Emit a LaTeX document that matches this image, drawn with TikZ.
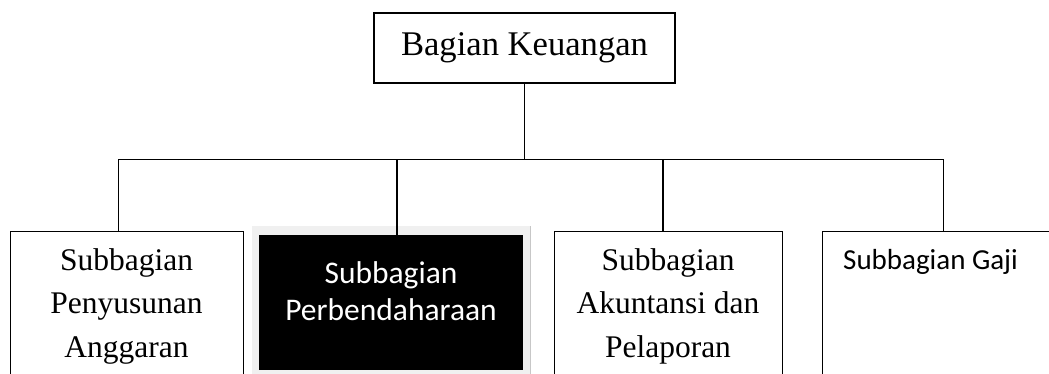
\documentclass[tikz,border=0pt]{standalone}
\usepackage{fontspec}
\setmainfont{Liberation Serif}
\newfontfamily\calib{Carlito}
\begin{document}
\begin{tikzpicture}[x=1pt,y=-1pt,
  box/.style={draw=black, line width=1.4pt, fill=white, inner sep=0pt, anchor=north west},
  link/.style={draw=black, line width=1.4pt},
  serifbody/.style={font=\fontsize{31.5}{43.5}\selectfont, align=center, inner sep=0pt, anchor=base},
  calbody/.style={font=\calib\fontsize{31.5}{37}\selectfont, align=center, inner sep=0pt, anchor=base}]
\clip (0,0) rectangle (1049,374);
\fill[white] (0,0) rectangle (1049,374);
% top
\node[draw=black, line width=1.4pt, minimum width=301pt, minimum height=70pt, inner sep=0pt,
      font=\fontsize{34.6}{40}\selectfont] (top) at (524.5,48) {Bagian Keuangan};
% boxes
\node[box, minimum width=233pt, minimum height=143pt] (b1) at (10,231) {};
\node[fill=black!6, minimum width=278pt, minimum height=148pt, inner sep=0pt, anchor=north west] (b2frame) at (252,226) {};
\draw[black!22, line width=1.2pt] (b2frame.north east) -- (b2frame.south east);
\node[fill=black, minimum width=264pt, minimum height=135pt, inner sep=0pt, anchor=north west] (b2) at (259,235) {};
\node[box, minimum width=228pt, minimum height=143pt] (b3) at (554,231) {};
\node[box, minimum width=250pt, minimum height=143pt] (b4) at (822,231) {};
% texts (anchor base = baseline of last line)
\node[serifbody] (t1) at (126.5,357) {Subbagian\\Penyusunan\\Anggaran};
\node[calbody, text=white] (t2) at (391,320) {Subbagian\\Perbendaharaan};
\node[serifbody] (t3) at (668,357) {Subbagian\\Akuntansi dan\\Pelaporan};
\node[font=\calib\fontsize{29}{35}\selectfont, inner sep=0pt, anchor=base west] (t4) at (843,269) {Subbagian Gaji};
% connectors
\coordinate (bus) at (524.5,159.5);
\coordinate (d1) at (118.5,159.5);
\coordinate (d2) at (397,159.5);
\coordinate (d3) at (663,159.5);
\coordinate (d4) at (943.5,159.5);
\draw[link] (top.south) -- (bus);
\draw[link] (d1) -- (d4);
\draw[link] (d1) -- (d1 |- b1.north);
\draw[link] (d2) -- (d2 |- b2.north);
\draw[link] (d3) -- (d3 |- b3.north);
\draw[link] (d4) -- (d4 |- b4.north);
\end{tikzpicture}
\end{document}
